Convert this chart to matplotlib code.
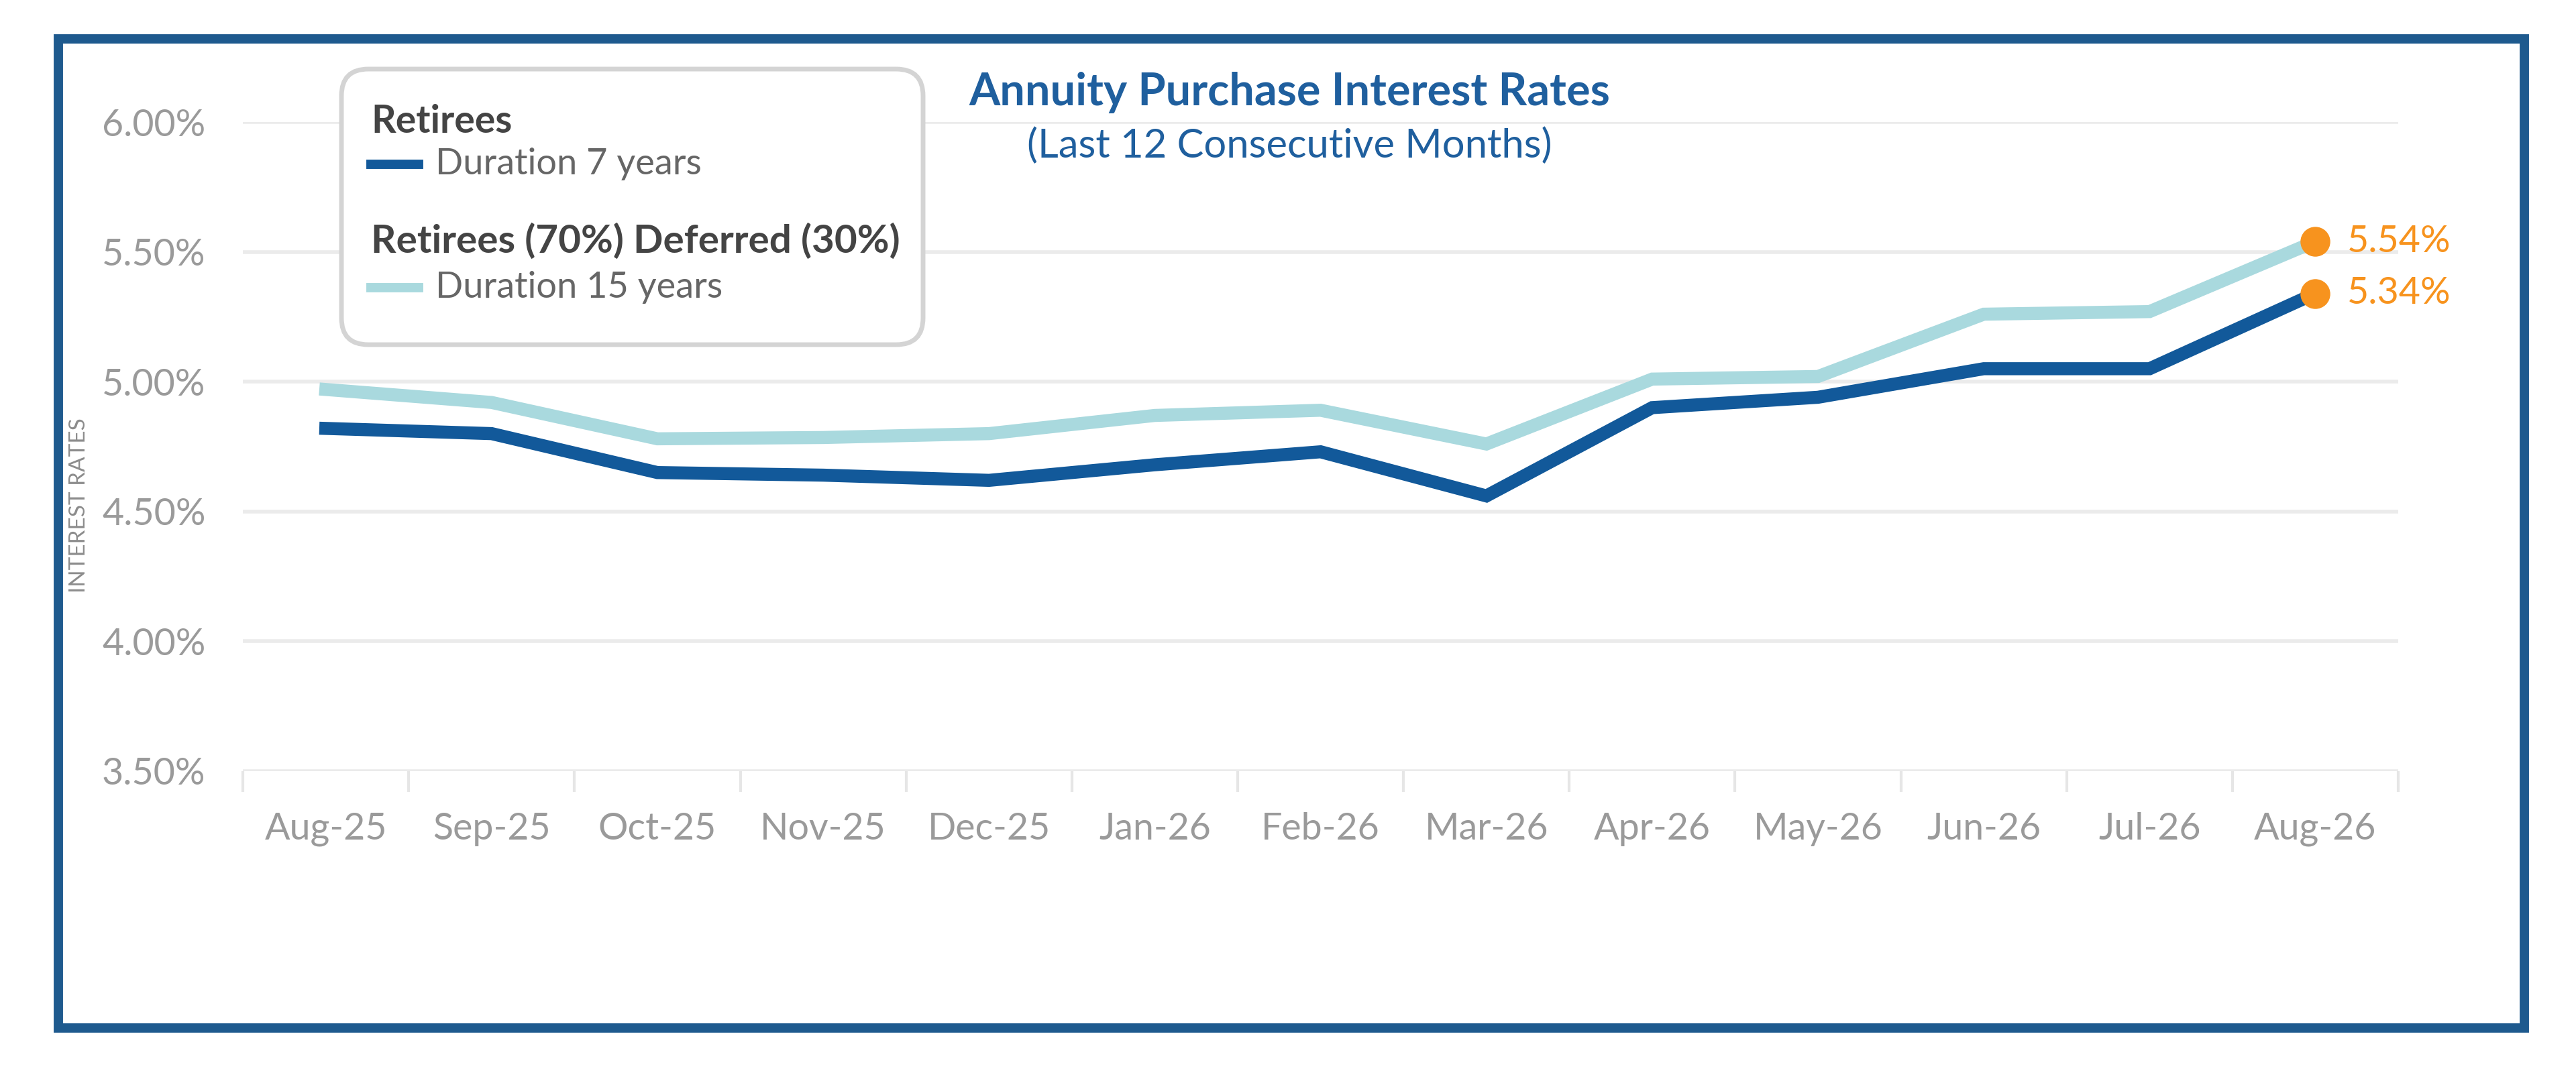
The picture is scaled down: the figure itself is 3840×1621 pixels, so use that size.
import numpy as np
import matplotlib.pyplot as plt
from matplotlib.patches import FancyBboxPatch, Rectangle
from matplotlib.lines import Line2D
from matplotlib.ticker import FuncFormatter, FixedLocator

plt.rcParams['font.family'] = ['Lato', 'DejaVu Sans']

months = ['Aug-25', 'Sep-25', 'Oct-25', 'Nov-25', 'Dec-25', 'Jan-26', 'Feb-26',
          'Mar-26', 'Apr-26', 'May-26', 'Jun-26', 'Jul-26', 'Aug-26']
dur7 = [4.82, 4.80, 4.65, 4.64, 4.62, 4.68, 4.73, 4.56, 4.90, 4.94, 5.05, 5.05, 5.34]
dur15 = [4.97, 4.92, 4.78, 4.785, 4.80, 4.87, 4.89, 4.76, 5.01, 5.02, 5.26, 5.27, 5.54]
yticks = [3.5, 4.0, 4.5, 5.0, 5.5, 6.0]

dark = '#12599A'
light = '#A9D9DE'
orange = '#F7931E'
title_blue = '#1F5F9E'
frame_blue = '#1E5A8E'
tick_gray = '#9A9A9A'

fig = plt.figure(figsize=(19.2, 8.105), dpi=200)
ax = fig.add_axes([0.0943, 0.2906, 0.931 - 0.0943, 0.8877 - 0.2906])

x = np.arange(len(months))
ax.plot(x, dur15, color=light, lw=7, solid_joinstyle='miter', clip_on=False, zorder=3)
ax.plot(x, dur7, color=dark, lw=7, solid_joinstyle='miter', clip_on=False, zorder=4)

# last-point markers and labels
for series in (dur15, dur7):
    ax.plot(x[-1], series[-1], 'o', color=orange, ms=15, zorder=5, clip_on=False)
    ax.annotate(f'{series[-1]:.2f}%', (x[-1], series[-1]), xytext=(17, 0),
                textcoords='offset points', ha='left', va='center',
                fontsize=20, color=orange)

ax.set_xlim(-0.5, len(months) - 0.5)
ax.set_ylim(3.5, 6.0)
ax.set_xticks(x)
ax.set_xticklabels(months)
ax.xaxis.set_minor_locator(FixedLocator(np.arange(-0.5, len(months), 1.0)))
ax.set_yticks(yticks)
ax.yaxis.set_major_formatter(FuncFormatter(lambda v, p: f'{v:.2f}%'))

ax.tick_params(axis='x', which='major', length=0, pad=22, labelsize=20, labelcolor=tick_gray)
ax.tick_params(axis='x', which='minor', length=11, width=1.5, color='#E6E6E6')
ax.tick_params(axis='y', length=0, pad=20, labelsize=20, labelcolor=tick_gray)

ax.grid(axis='y', color='#EBEBEB', lw=2)
ax.set_axisbelow(True)
for s in ax.spines.values():
    s.set_visible(False)

fig.text(0.0306, 0.535, 'INTEREST RATES', rotation=90, ha='center', va='center',
         fontsize=12, color='#8C8C8C')

# title
fig.text(0.5006, 0.915, 'Annuity Purchase Interest Rates', ha='center', va='center',
         fontsize=24, fontweight='bold', color=title_blue)
fig.text(0.5006, 0.866, '(Last 12 Consecutive Months)', ha='center', va='center',
         fontsize=21.5, color=title_blue)

# legend box
box = FancyBboxPatch((2.545, 5.535), 4.335, 2.055,
                     boxstyle='round,pad=0,rounding_size=0.2',
                     transform=fig.dpi_scale_trans, facecolor='white',
                     edgecolor='#D4D4D4', lw=2.5, zorder=10)
fig.patches.append(box)

fig.text(0.144, 0.888, 'Retirees', ha='left', va='center', fontsize=20.5,
         fontweight='bold', color='#444444', zorder=11)
fig.lines.append(Line2D([0.144, 0.1626], [0.849, 0.849], transform=fig.transFigure,
                        color=dark, lw=5, zorder=11))
fig.text(0.169, 0.849, 'Duration 7 years', ha='left', va='center', fontsize=19.5,
         color='#666666', zorder=11)
fig.text(0.144, 0.778, 'Retirees (70%) Deferred (30%)', ha='left', va='center',
         fontsize=21, fontweight='bold', color='#444444', zorder=11)
fig.lines.append(Line2D([0.144, 0.1626], [0.7356, 0.7356], transform=fig.transFigure,
                        color=light, lw=5, zorder=11))
fig.text(0.169, 0.7356, 'Duration 15 years', ha='left', va='center', fontsize=19.5,
         color='#666666', zorder=11)

# outer frame
frame = Rectangle((0.0227, 0.0543), 0.980 - 0.0227, 0.9645 - 0.0543,
                  transform=fig.transFigure, fill=False, edgecolor=frame_blue, lw=5)
fig.patches.append(frame)

fig.savefig('out.png', dpi=200, facecolor='white')
